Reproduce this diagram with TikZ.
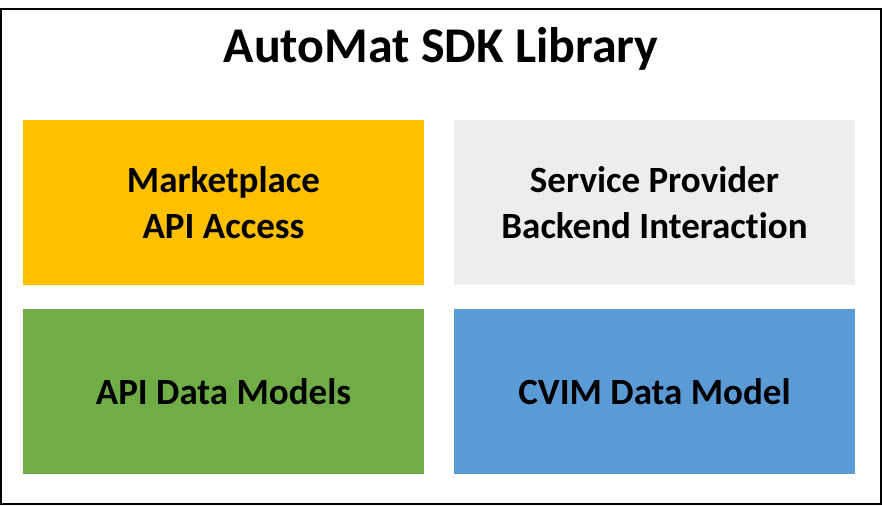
\documentclass[tikz,border=0pt]{standalone}
\usepackage{fontspec}
\setmainfont{Carlito}[Ligatures={NoCommon}]
\definecolor{sdkyellow}{HTML}{FFC000}
\definecolor{sdkgray}{HTML}{EDEDED}
\definecolor{sdkgreen}{HTML}{70AD47}
\definecolor{sdkblue}{HTML}{5B9BD5}
\begin{document}
\begin{tikzpicture}[x=1pt, y=-1pt, font=\bfseries]
\tikzset{%
	frame/.style = {draw, rectangle, line width = 2.5pt, minimum width = 880pt, minimum height = 495pt, inner sep = 0pt},
	title/.style = {font=\bfseries\fontsize{50}{60}\selectfont, inner sep = 0pt},
	block/.style = {rectangle, minimum width = 401pt, minimum height = 165pt, inner sep = 0pt, align = center, font=\bfseries\fontsize{37}{45.5}\selectfont}
}
\useasboundingbox (0,0) rectangle (882,506);

% Outer frame
\draw node at (441,256.5) [frame] (lib) {};
\draw node at (441,49) [title] (t) {AutoMat SDK Library};

% Components
\draw node at (223.5,202.5) [block, fill = sdkyellow] (mp) {Marketplace\\API Access};
\draw node at (654.5,202.5) [block, fill = sdkgray] (sp) {Service Provider\\Backend Interaction};
\draw node at (223.5,391.5) [block, fill = sdkgreen] (am) {API Data Models};
\draw node at (654.5,391.5) [block, fill = sdkblue] (cv) {CVIM Data Model};

\end{tikzpicture}
\end{document}
